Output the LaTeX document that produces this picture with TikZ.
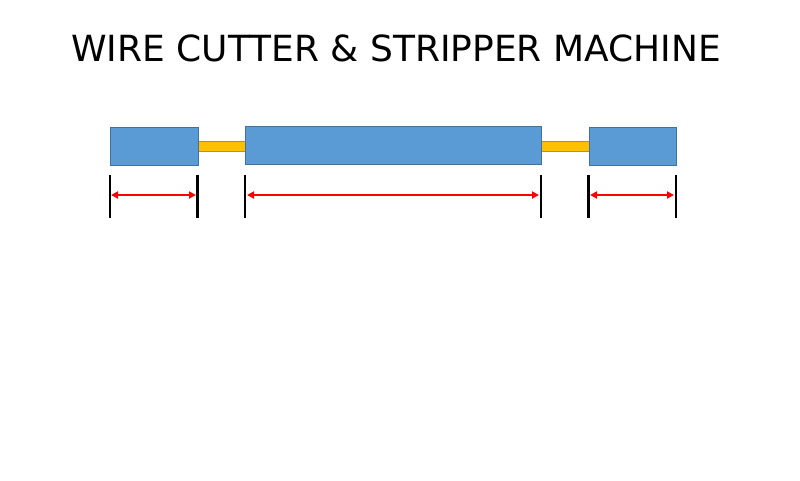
\documentclass[tikz,border=0pt]{standalone}
\usepackage{fontspec}
\setmainfont{DejaVu Sans}
\usetikzlibrary{arrows.meta}
\definecolor{boxblue}{HTML}{5B9BD5}
\definecolor{boxedge}{HTML}{41719C}
\definecolor{wirey}{HTML}{FFC000}
\definecolor{wireedge}{HTML}{BF9000}
\begin{document}
\begin{tikzpicture}[x=1pt,y=-1pt,
  blockbox/.style={draw=boxedge,fill=boxblue,line width=1pt},
  wirebox/.style={draw=wireedge,fill=wirey,line width=1pt},
  tick/.style={line width=2.5pt,black},
  dim/.style={red,line width=2pt,{Triangle[length=7pt,width=7pt]}-{Triangle[length=7pt,width=7pt]}}]
\useasboundingbox (0,0) rectangle (800,480);
\node[font=\fontsize{36}{40}\selectfont,inner sep=0pt] (title) at (396,48) {WIRE CUTTER \& STRIPPER MACHINE};
% wires
\draw[wirebox] (198,141) rectangle (245,151);
\draw[wirebox] (541,141) rectangle (589,151);
% blocks
\draw[blockbox] (110,127) rectangle (198,165);
\draw[blockbox] (245,126) rectangle (541,164);
\draw[blockbox] (589,127) rectangle (676,165);
% ticks
\coordinate (t1a) at (110,175); \coordinate (t1b) at (110,218);
\coordinate (t2a) at (197.5,175); \coordinate (t2b) at (197.5,218);
\coordinate (t3a) at (245,175); \coordinate (t3b) at (245,218);
\coordinate (t4a) at (541,175); \coordinate (t4b) at (541,218);
\coordinate (t5a) at (588,175); \coordinate (t5b) at (588,218);
\coordinate (t6a) at (676,175); \coordinate (t6b) at (676,218);
\draw[tick] (t1a) -- (t1b);
\draw[tick,line width=3pt] (t2a) -- (t2b);
\draw[tick,line width=2pt] (t3a) -- (t3b);
\draw[tick,line width=2pt] (t4a) -- (t4b);
\draw[tick,line width=3pt] (t5a) -- (t5b);
\draw[tick,line width=2pt] (t6a) -- (t6b);
% dimension arrows
\coordinate (a1) at (111,195); \coordinate (b1) at (196,195);
\coordinate (a2) at (247,195); \coordinate (b2) at (539,195);
\coordinate (a3) at (590,195); \coordinate (b3) at (674,195);
\draw[dim] (a1) -- (b1);
\draw[dim] (a2) -- (b2);
\draw[dim] (a3) -- (b3);
\end{tikzpicture}
\end{document}
